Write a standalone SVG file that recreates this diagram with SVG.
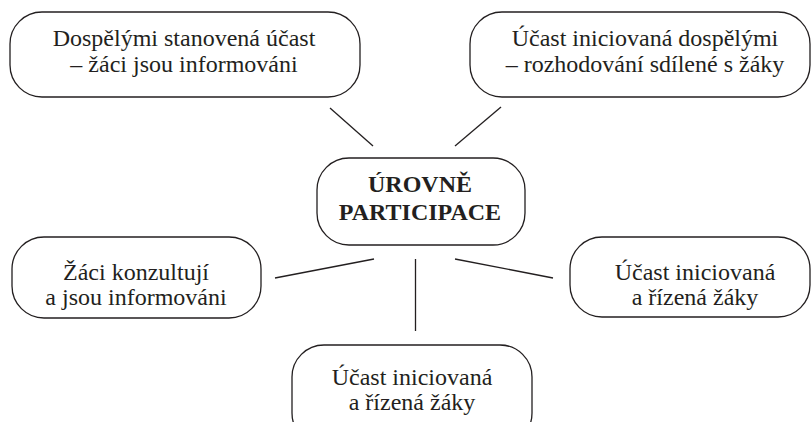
<svg xmlns="http://www.w3.org/2000/svg" width="812" height="422" viewBox="0 0 812 422">
<style>
.box{fill:#fff;stroke:#231f20;stroke-width:1.3}
text{font-family:'Liberation Serif','Times New Roman',serif;font-size:24px;fill:#231f20;text-anchor:middle}
.b{font-weight:bold}
.c{stroke:#231f20;stroke-width:1.3;fill:none}
</style>
<rect width="812" height="422" fill="#fff"/>
<g id="connectors">
<line class="c" x1="330" y1="108" x2="373" y2="146"/>
<line class="c" x1="501" y1="107" x2="455" y2="146"/>
<line class="c" x1="275" y1="278" x2="374" y2="259"/>
<line class="c" x1="455" y1="259" x2="553" y2="278"/>
<line class="c" x1="415.5" y1="259" x2="415.5" y2="331"/>
</g>
<g id="n1">
<rect class="box" x="10" y="12" width="350" height="85" rx="32"/>
<text x="184" y="46">Dospělými stanovená účast</text>
<text x="184" y="72">– žáci jsou informováni</text>
</g>
<g id="n2">
<rect class="box" x="470" y="12" width="340" height="85" rx="32"/>
<text x="645" y="46">Účast iniciovaná dospělými</text>
<text x="645" y="72">– rozhodování sdílené s žáky</text>
</g>
<g id="center">
<rect class="box" x="317" y="158" width="208" height="87" rx="32"/>
<text class="b" x="420" y="192">ÚROVNĚ</text>
<text class="b" x="420" y="220">PARTICIPACE</text>
</g>
<g id="n3">
<rect class="box" x="12" y="237" width="249" height="81" rx="32"/>
<text x="136" y="280">Žáci konzultují</text>
<text x="136" y="305">a jsou informováni</text>
</g>
<g id="n4">
<rect class="box" x="570" y="237" width="240" height="80" rx="32"/>
<text x="695" y="280">Účast iniciovaná</text>
<text x="695" y="305">a řízená žáky</text>
</g>
<g id="n5">
<rect class="box" x="292" y="345" width="240" height="100" rx="32"/>
<text x="412" y="385">Účast iniciovaná</text>
<text x="412" y="410">a řízená žáky</text>
</g>
</svg>
